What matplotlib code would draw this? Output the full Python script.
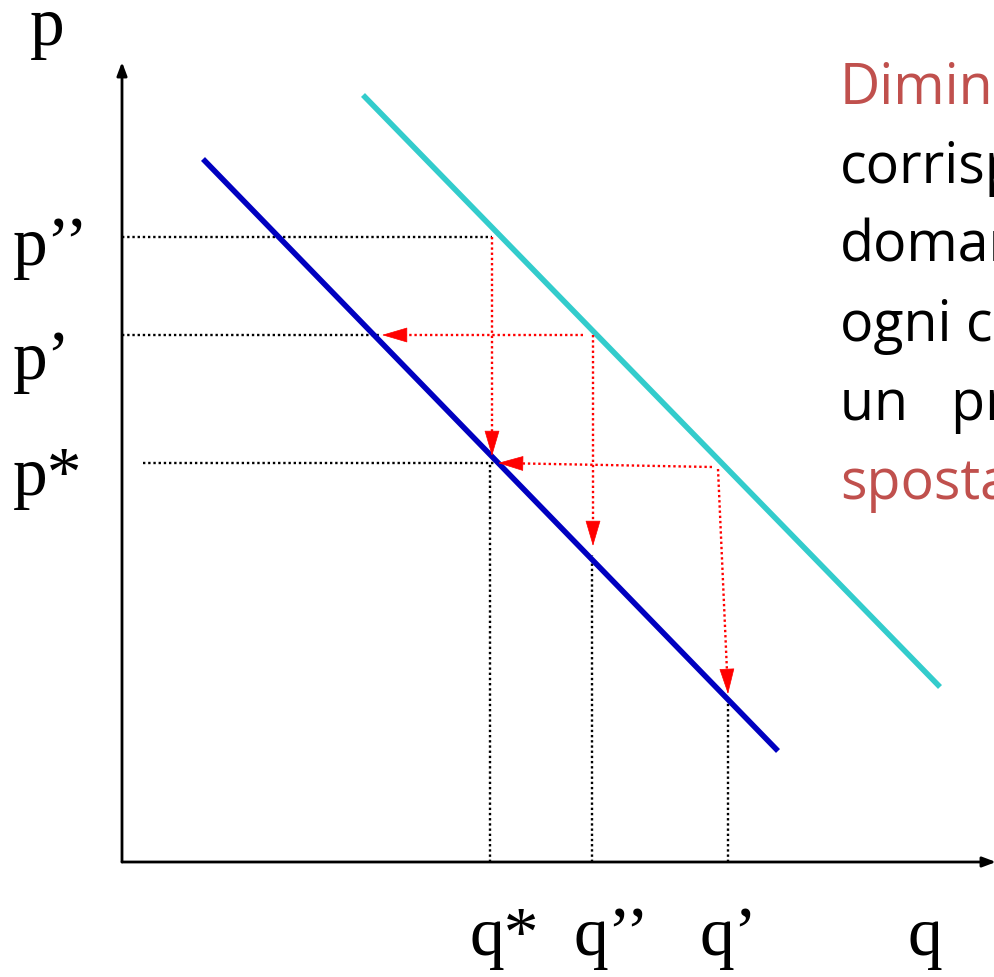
import numpy as np
import matplotlib.pyplot as plt

# demand curves (q, p) - origin at the axes corner
demand_q = [81, 656]
demand_p = [703, 111]
demand_new_q = [241, 818]
demand_new_p = [767, 175]

# axis labels: text, q, p (baseline)
p_labels = ["p’’", "p’", "p*"]
p_label_pos = [598, 484, 368]
q_labels = ["q*", "q’’", "q’"]
q_label_pos = [348, 451, 578]

# black dotted guides: (q0, p0, q1, p1)
guides = [
    (0, 625, 370, 625),
    (0, 527, 258, 527),
    (21, 399, 373, 399),
    (368, 0, 368, 399),
    (470, 0, 470, 307),
    (606, 0, 606, 165),
]
# red dotted arrows: (q0, p0, q1, p1)
moves = [
    (370, 625, 370, 406),
    (461, 527, 260, 527),
    (471, 527, 471, 316),
    (590, 395, 376, 399),
    (596, 393, 606, 168),
]

text_lines = ["Diminuzione", "corrispondente", "domanda", "ogni curva", "un   prezzo", "spostamento"]
text_colors = ["#C0504D", "black", "black", "black", "black", "#C0504D"]

fig = plt.figure(figsize=(9.95, 9.78), dpi=100)
ax = fig.add_axes([0, 0, 1, 1])
ax.set_xlim(-122, 873)
ax.set_ylim(-115, 863)
ax.axis("off")

# axes with arrows
axis_arrow = dict(arrowstyle="-|>,head_length=0.8,head_width=0.3", lw=2, color="black",
                  shrinkA=0, shrinkB=0)
ax.annotate("", xy=(0, 800), xytext=(0, 0), arrowprops=axis_arrow, annotation_clip=False)
ax.annotate("", xy=(874, 0), xytext=(0, 0), arrowprops=axis_arrow, annotation_clip=False)

for q0, p0, q1, p1 in guides:
    ax.plot([q0, q1], [p0, p1], color="black", lw=1.7, ls=(0, (1, 1.2)))

ax.plot(demand_new_q, demand_new_p, color="#33CCCC", lw=4, solid_capstyle="butt")
ax.plot(demand_q, demand_p, color="#0000C0", lw=4, solid_capstyle="butt")

for q0, p0, q1, p1 in moves:
    d = np.array([q1 - q0, p1 - p0], dtype=float)
    d /= np.hypot(*d)
    ax.plot([q0, q1 - d[0] * 10], [p0, p1 - d[1] * 10], color="red", lw=1.7, ls=(0, (1, 1.2)))
    ax.annotate("", xy=(q1, p1), xytext=(q1 - d[0] * 24, p1 - d[1] * 24),
                arrowprops=dict(arrowstyle="-|>,head_length=1.7,head_width=0.5", lw=0.5,
                                color="red", shrinkA=0, shrinkB=0))

serif = "Liberation Serif"
ax.text(-92, 818, "p", fontsize=50, family=serif, ha="left", va="baseline")
for lab, p in zip(p_labels, p_label_pos):
    ax.text(-109, p, lab, fontsize=50, family=serif, ha="left", va="baseline")
ax.text(786, -92, "q", fontsize=50, family=serif, ha="left", va="baseline")
for lab, q in zip(q_labels, q_label_pos):
    ax.text(q, -92, lab, fontsize=50, family=serif, ha="left", va="baseline")

for i, (line, col) in enumerate(zip(text_lines, text_colors)):
    ax.text(718, 759 - i * 79, line, fontsize=40, family="Open Sans", color=col,
            ha="left", va="baseline")

fig.savefig("out.png", dpi=100)
